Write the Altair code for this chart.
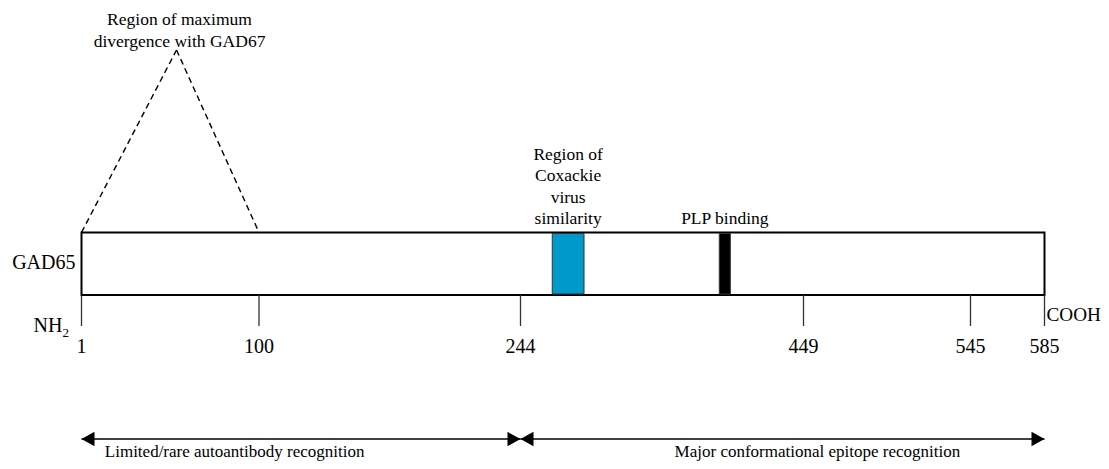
import altair as alt
import pandas as pd

# ---- data (amino-acid residue numbers of GAD65) ----
tick_residues = [1, 100, 244, 449, 545, 585]
tick_labels = ["1", "100", "244", "449", "545", "585"]
protein = {"name": "GAD65", "start": 1, "end": 585}
divergence = {"start": 1, "apex": 54, "end": 100,
              "label": "Region of maximum\ndivergence with GAD67"}
coxsackie = {"start": 267, "end": 290,
             "label": "Region of\nCoxackie\nvirus\nsimilarity"}
plp = {"start": 388, "end": 396, "label": "PLP binding"}
recognition_names = ["Limited/rare autoantibody recognition",
                     "Major conformational epitope recognition"]
recognition_start = [1, 244]
recognition_end = [244, 585]
recognition_label_pos = [14, 457]
recognition_label_align = ["left", "center"]

FONT = "Liberation Serif"

# diagram x scale (residues drawn at the diagram's own, non-uniform spacing)
xs = alt.Scale(domain=tick_residues,
               range=[73.5, 251, 512.5, 795.5, 962.5, 1036.5],
               zero=False, nice=False)
X = lambda f: alt.X(f, type="quantitative", scale=xs, axis=None)
X2 = lambda f: alt.X2(f)

# layout (vertical positions in px)
BOX_TOP, BOX_BOT = 224.5, 287
TICK_BOT = 318
ARROW_Y = 431
REC_TEXT_Y = 444

prot_df = pd.DataFrame([protein])
feat_df = pd.DataFrame([
    {"start": coxsackie["start"], "end": coxsackie["end"], "color": "#0099CC"},
    {"start": plp["start"], "end": plp["end"], "color": "#000000"},
])
ticks_df = pd.DataFrame({"res": tick_residues, "label": tick_labels})
div_df = pd.DataFrame([divergence])
cox_df = pd.DataFrame([{"mid": (coxsackie["start"] + coxsackie["end"]) / 2,
                        "label": coxsackie["label"]}])
plp_df = pd.DataFrame([{"mid": (plp["start"] + plp["end"]) / 2,
                        "label": plp["label"]}])
rec_df = pd.DataFrame({"name": recognition_names, "start": recognition_start,
                       "end": recognition_end, "pos": recognition_label_pos,
                       "align": recognition_label_align})

box = alt.Chart(prot_df).mark_rect(fill="white", stroke="black", strokeWidth=2).encode(
    x=X("start"), x2=X2("end"), y=alt.value(BOX_TOP), y2=alt.value(BOX_BOT))

features = alt.Chart(feat_df).mark_rect(stroke="#333333", strokeWidth=1).encode(
    x=X("start"), x2=X2("end"), y=alt.value(BOX_TOP + 1), y2=alt.value(BOX_BOT - 1),
    fill=alt.Fill("color:N", scale=None))

ticks = alt.Chart(ticks_df).mark_rule(color="#333333", strokeWidth=1.3).encode(
    x=X("res"), y=alt.value(BOX_BOT), y2=alt.value(TICK_BOT))

tick_text = alt.Chart(ticks_df).mark_text(font=FONT, fontSize=20, baseline="alphabetic",
                                          align="center", color="black").encode(
    x=X("res"), y=alt.value(345), text="label:N")

dash_left = alt.Chart(div_df).mark_rule(strokeDash=[6, 4], strokeWidth=1.4, color="black").encode(
    x=X("start"), x2=X2("apex"), y=alt.value(BOX_TOP), y2=alt.value(42))
dash_right = alt.Chart(div_df).mark_rule(strokeDash=[6, 4], strokeWidth=1.4, color="black").encode(
    x=X("apex"), x2=X2("end"), y=alt.value(42), y2=alt.value(BOX_TOP))
div_text = alt.Chart(div_df).mark_text(font=FONT, fontSize=17.5, lineBreak="\n",
                                       lineHeight=21.5, baseline="middle", align="center",
                                       dx=3, color="black").encode(
    x=X("apex"), y=alt.value(12), text="label:N")

cox_text = alt.Chart(cox_df).mark_text(font=FONT, fontSize=17.5, lineBreak="\n",
                                       lineHeight=21.3, baseline="middle", align="center",
                                       color="black").encode(
    x=X("mid"), y=alt.value(147), text="label:N")
plp_text = alt.Chart(plp_df).mark_text(font=FONT, fontSize=17.5, baseline="middle",
                                       align="center", color="black").encode(
    x=X("mid"), y=alt.value(211), text="label:N")

name_text = alt.Chart(prot_df).mark_text(font=FONT, fontSize=20, baseline="middle",
                                         align="right", dx=-6, color="black").encode(
    x=X("start"), y=alt.value(255), text="name:N")
nh_text = alt.Chart(prot_df).mark_text(font=FONT, fontSize=20, baseline="middle",
                                       align="right", dx=-19, color="black").encode(
    x=X("start"), y=alt.value(318), text=alt.value("NH"))
nh_sub = alt.Chart(prot_df).mark_text(font=FONT, fontSize=13, baseline="alphabetic",
                                      align="left", dx=-19, color="black").encode(
    x=X("start"), y=alt.value(329), text=alt.value("2"))
cooh_text = alt.Chart(prot_df).mark_text(font=FONT, fontSize=19.2, baseline="middle",
                                         align="left", dx=2, color="black").encode(
    x=X("end"), y=alt.value(307), text=alt.value("COOH"))

rec_lines = alt.Chart(rec_df).mark_rule(color="black", strokeWidth=1.5).encode(
    x=X("start"), x2=X2("end"), y=alt.value(ARROW_Y))
LEFT_HEAD = "M0,0L1,-0.55L1,0.55Z"
RIGHT_HEAD = "M0,0L-1,-0.55L-1,0.55Z"
heads_left = alt.Chart(rec_df).mark_point(shape=LEFT_HEAD, size=676, filled=True,
                                          opacity=1, color="black", strokeWidth=0).encode(
    x=X("start"), y=alt.value(ARROW_Y))
heads_right = alt.Chart(rec_df).mark_point(shape=RIGHT_HEAD, size=676, filled=True,
                                           opacity=1, color="black", strokeWidth=0).encode(
    x=X("end"), y=alt.value(ARROW_Y))
rec_text_left = alt.Chart(rec_df).transform_filter(alt.datum.align == "left").mark_text(
    font=FONT, fontSize=17, baseline="middle", align="left", color="black").encode(
    x=X("pos"), y=alt.value(REC_TEXT_Y), text="name:N")
rec_text_center = alt.Chart(rec_df).transform_filter(alt.datum.align == "center").mark_text(
    font=FONT, fontSize=17, baseline="middle", align="center", color="black").encode(
    x=X("pos"), y=alt.value(REC_TEXT_Y), text="name:N")

chart = alt.layer(
    dash_left, dash_right, box, features, ticks, tick_text, div_text, cox_text, plp_text,
    name_text, nh_text, nh_sub, cooh_text, rec_lines, heads_left, heads_right,
    rec_text_left, rec_text_center
).properties(
    width=1093, height=453, padding=0, autosize=alt.AutoSizeParams(type="none"),
    background="white"
).configure_view(strokeWidth=0)

chart.save("out.html", embed_options={"renderer": "svg", "actions": False})
